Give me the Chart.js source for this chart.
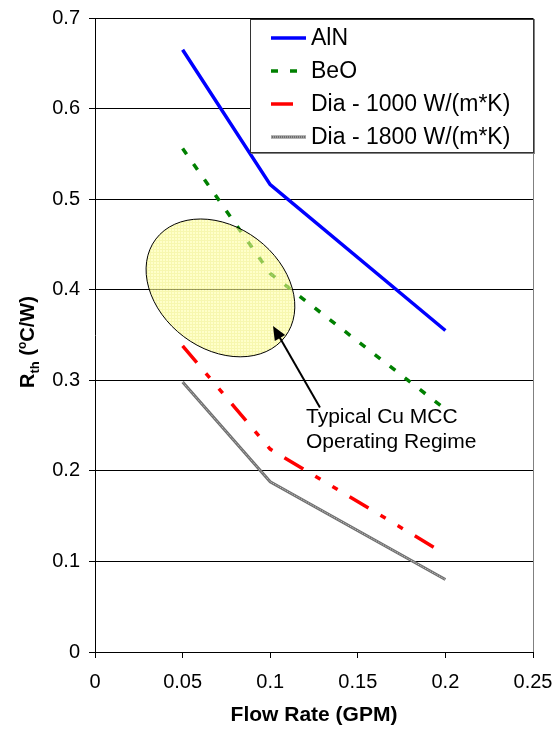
<!DOCTYPE html>
<html>
<head>
<meta charset="utf-8">
<script src="https://cdn.jsdelivr.net/npm/chart.js@4/dist/chart.umd.min.js"></script>
<style>
  html, body { margin: 0; padding: 0; background: #fff; }
  #wrap { width: 559px; height: 730px; position: relative; }
</style>
</head>
<body>
<div id="wrap"><canvas id="chart1"></canvas></div>
<script>
// data
var flowRate   = [0.05, 0.1, 0.2]
var rthAlN     = [0.665, 0.516, 0.355]
var rthBeO     = [0.556, 0.418, 0.268]
var rthDia1000 = [0.338, 0.224, 0.108]
var rthDia1800 = [0.298, 0.188, 0.080]
var seriesNames = ['AlN', 'BeO', 'Dia - 1000 W/(m*K)', 'Dia - 1800 W/(m*K)']
var xTickLabels = ['0', '0.05', '0.1', '0.15', '0.2', '0.25']
var yTickLabels = ['0', '0.1', '0.2', '0.3', '0.4', '0.5', '0.6', '0.7']
var noteLines   = ['Typical Cu MCC', 'Operating Regime']
var regimeCenter = [0.0716, 0.402]   // ellipse centre (GPM, degC/W)
var arrowTail    = [0.1284, 0.270]
var arrowTip     = [0.1016, 0.360]

var FONT = '"Liberation Sans", Arial, sans-serif'

function pts(ys) {
  return ys.map(function (y, i) { return { x: flowRate[i], y: y } })
}

var chartData = {
  datasets: [
    { label: seriesNames[0], data: pts(rthAlN), borderColor: '#0000ff', borderWidth: 3.5, borderDash: [] },
    { label: seriesNames[1], data: pts(rthBeO), borderColor: '#008000', borderWidth: 3.5, borderDash: [7, 12] },
    { label: seriesNames[2], data: pts(rthDia1000), borderColor: '#ff0000', borderWidth: 3.5, borderDash: [22, 14, 6, 14, 6, 14] },
    { label: seriesNames[3], data: pts(rthDia1800), borderColor: '#6e6e6e', borderWidth: 3, borderDash: [] }
  ]
}
chartData.datasets.forEach(function (d) {
  d.pointRadius = 0
  d.tension = 0
  d.fill = false
  d.borderCapStyle = 'butt'
})

// hatched yellow fill for the regime ellipse
function makePattern(ctx) {
  var c = document.createElement('canvas')
  c.width = 3; c.height = 3
  var p = c.getContext('2d')
  p.fillStyle = '#ffffa6'
  p.fillRect(0, 0, 3, 3)
  p.fillStyle = '#f2f27a'
  p.fillRect(0, 0, 3, 1)
  p.fillRect(0, 0, 1, 3)
  return ctx.createPattern(c, 'repeat')
}

var extras = {
  id: 'extras',
  afterDatasetsDraw: function (chart) {
    var ctx = chart.ctx
    var xs = chart.scales.x, ys = chart.scales.y
    var area = chart.chartArea

    // light stipple down the middle of the grey double line
    var meta = chart.getDatasetMeta(3)
    ctx.save()
    ctx.strokeStyle = '#d0d0d0'
    ctx.lineWidth = 1
    ctx.setLineDash([1, 1])
    ctx.beginPath()
    meta.data.forEach(function (p, i) {
      if (i === 0) ctx.moveTo(p.x, p.y); else ctx.lineTo(p.x, p.y)
    })
    ctx.stroke()
    ctx.restore()

    // regime ellipse
    var cx = xs.getPixelForValue(regimeCenter[0])
    var cy = ys.getPixelForValue(regimeCenter[1])
    ctx.save()
    ctx.beginPath()
    ctx.ellipse(cx, cy, 81, 61, 37 * Math.PI / 180, 0, Math.PI * 2)
    ctx.globalAlpha = 0.6
    ctx.fillStyle = makePattern(ctx)
    ctx.fill()
    ctx.globalAlpha = 1
    ctx.strokeStyle = '#000'
    ctx.lineWidth = 1
    ctx.stroke()
    ctx.restore()

    // arrow
    var tx = xs.getPixelForValue(arrowTail[0]), ty = ys.getPixelForValue(arrowTail[1])
    var hx = xs.getPixelForValue(arrowTip[0]), hy = ys.getPixelForValue(arrowTip[1])
    var ang = Math.atan2(hy - ty, hx - tx)
    ctx.save()
    ctx.strokeStyle = '#000'
    ctx.fillStyle = '#000'
    ctx.lineWidth = 2
    ctx.beginPath()
    ctx.moveTo(tx, ty)
    ctx.lineTo(hx - 10 * Math.cos(ang), hy - 10 * Math.sin(ang))
    ctx.stroke()
    ctx.beginPath()
    ctx.moveTo(hx, hy)
    ctx.lineTo(hx - 14 * Math.cos(ang) + 6 * Math.sin(ang), hy - 14 * Math.sin(ang) - 6 * Math.cos(ang))
    ctx.lineTo(hx - 14 * Math.cos(ang) - 6 * Math.sin(ang), hy - 14 * Math.sin(ang) + 6 * Math.cos(ang))
    ctx.closePath()
    ctx.fill()

    // note text
    ctx.font = '21px ' + FONT
    ctx.textAlign = 'left'
    ctx.textBaseline = 'middle'
    ctx.fillText(noteLines[0], 306, 417)
    ctx.fillText(noteLines[1], 306, 442)
    ctx.restore()

    // right frame line
    ctx.save()
    ctx.strokeStyle = '#808080'
    ctx.lineWidth = 1
    ctx.beginPath()
    ctx.moveTo(area.right + 0.5, area.top)
    ctx.lineTo(area.right + 0.5, area.bottom)
    ctx.stroke()
    ctx.restore()
  },
  afterDraw: function (chart) {
    var ctx = chart.ctx

    // legend box
    ctx.save()
    ctx.fillStyle = '#fff'
    ctx.fillRect(250, 19, 283, 133)
    ctx.strokeStyle = '#808080'
    ctx.lineWidth = 2
    ctx.beginPath()
    ctx.moveTo(251, 153); ctx.lineTo(534, 153); ctx.lineTo(534, 19)
    ctx.stroke()
    ctx.strokeStyle = '#333'
    ctx.lineWidth = 1
    ctx.strokeRect(250.5, 19.5, 283, 133)
    var rowY = [38, 71, 104, 137]
    var sampleEnd = [306, 300, 295, 306]
    chart.data.datasets.forEach(function (d, i) {
      ctx.strokeStyle = d.borderColor
      ctx.lineWidth = d.borderWidth
      ctx.setLineDash(d.borderDash)
      ctx.lineCap = 'butt'
      ctx.beginPath()
      ctx.moveTo(271, rowY[i])
      ctx.lineTo(sampleEnd[i], rowY[i])
      ctx.stroke()
      if (i === 3) {
        ctx.strokeStyle = '#d0d0d0'
        ctx.lineWidth = 1
        ctx.setLineDash([1, 1])
        ctx.beginPath()
        ctx.moveTo(271, rowY[i]); ctx.lineTo(sampleEnd[i], rowY[i])
        ctx.stroke()
      }
      ctx.setLineDash([])
      ctx.fillStyle = '#000'
      ctx.font = '23px ' + FONT
      ctx.textAlign = 'left'
      ctx.textBaseline = 'middle'
      ctx.fillText(d.label, 311, rowY[i] + 1)
    })
    ctx.restore()

    // y axis title with subscript and degree sign
    ctx.save()
    ctx.translate(27, 342)
    ctx.rotate(-Math.PI / 2)
    ctx.fillStyle = '#000'
    ctx.textBaseline = 'alphabetic'
    ctx.textAlign = 'left'
    var parts = [
      { t: 'R', f: 'bold 20px ' + FONT, dy: 0 },
      { t: 'th', f: 'bold 13px ' + FONT, dy: 5 },
      { t: ' (', f: 'bold 20px ' + FONT, dy: 0 },
      { t: 'o', f: 'bold 12px ' + FONT, dy: -8 },
      { t: 'C/W)', f: 'bold 20px ' + FONT, dy: 0 }
    ]
    var total = 0
    parts.forEach(function (p) { ctx.font = p.f; p.w = ctx.measureText(p.t).width; total += p.w })
    var x = -total / 2
    parts.forEach(function (p) {
      ctx.font = p.f
      ctx.fillText(p.t, x, 7 + p.dy)
      x += p.w
    })
    ctx.restore()
  }
}

var chartOptions = {
  responsive: true,
  maintainAspectRatio: false,
  animation: false,
  layout: { padding: { left: 0, top: 18, right: 26, bottom: 0 } },
  plugins: { legend: { display: false }, tooltip: { enabled: false } },
  scales: {
    x: {
      type: 'linear',
      min: 0,
      max: 0.25,
      afterFit: function (s) {
        s.height = 78
        s.paddingLeft = 0
        s.paddingRight = 0
      },
      afterBuildTicks: function (s) {
        s.ticks = xTickLabels.map(function (l) { return { value: parseFloat(l) } })
      },
      ticks: {
        padding: 12,
        color: '#000',
        font: { family: FONT, size: 20 },
        maxRotation: 0,
        callback: function (v, i) { return xTickLabels[i] }
      },
      grid: { drawOnChartArea: false, drawTicks: true, tickLength: 6, color: '#000' },
      border: { color: '#000', width: 1 },
      title: {
        display: true,
        text: 'Flow Rate (GPM)',
        color: '#000',
        font: { family: FONT, size: 21, weight: 'bold' },
        padding: { top: 0, bottom: 2 }
      }
    },
    y: {
      type: 'linear',
      min: 0,
      max: 0.7,
      afterFit: function (s) {
        s.width = 95
        s.paddingTop = 0
        s.paddingBottom = 0
      },
      afterBuildTicks: function (s) {
        s.ticks = yTickLabels.map(function (l) { return { value: parseFloat(l) } })
      },
      ticks: {
        padding: 9,
        color: '#000',
        font: { family: FONT, size: 20 },
        callback: function (v, i) { return yTickLabels[i] }
      },
      grid: { drawOnChartArea: true, drawTicks: true, tickLength: 6, color: '#000', lineWidth: 1 },
      border: { color: '#000', width: 1 }
    }
  }
}

new Chart(document.getElementById('chart1').getContext('2d'), {
  type: 'line',
  data: chartData,
  options: chartOptions,
  plugins: [extras]
})
</script>
</body>
</html>
